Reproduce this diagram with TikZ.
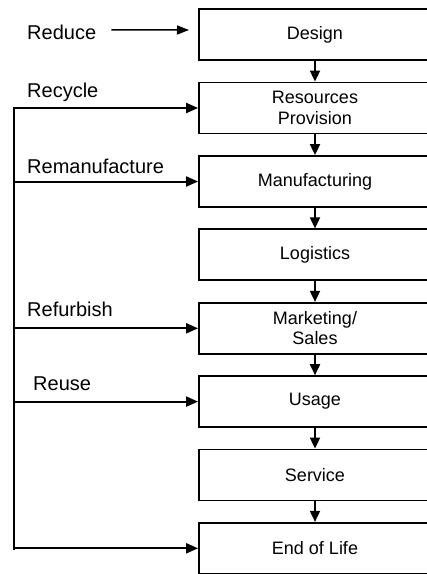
\documentclass[tikz,border=0pt]{standalone}
\usepackage{fontspec}
\setmainfont{Liberation Sans}
\usetikzlibrary{arrows.meta}
\begin{document}
\begin{tikzpicture}[x=1pt,y=-1pt,
  stage/.style={draw, line width=1.8pt, minimum width=232pt, minimum height=51pt,
    align=center, inner sep=0pt, font=\fontsize{18}{20.5}\selectfont},
  lbl/.style={anchor=base west, inner sep=0pt, font=\fontsize{20}{24}\selectfont},
  flow/.style={line width=1.8pt, -{Triangle[length=11pt,width=10pt]}},
  feed/.style={line width=2pt, -{Triangle[length=12pt,width=10pt]}},
  bus/.style={line width=2.5pt, line cap=rect},
  redarrow/.style={line width=1.5pt, -{Triangle[length=12pt,width=9pt]}}]
\useasboundingbox (0,0) rectangle (427,574);
\clip (0,0) rectangle (427,574);
\fill[white] (0,0) rectangle (427,574);

% stages
\node[stage] (design) at (315,34.5) {Design};
\node[stage] (res)    at (315,108) {Resources\\Provision};
\node[stage] (manuf)  at (315,181.5) {Manufacturing};
\node[stage] (log)    at (315,254.8) {Logistics};
\node[stage] (mkt)    at (315,328.3) {Marketing/\\Sales};
\node[stage] (usage)  at (315,401.6) {Usage};
\node[stage] (serv)   at (315,475) {Service};
\node[stage] (eol)    at (315,548.3) {End of Life};

% downward flow
\draw[flow] (design) -- (res);
\draw[flow] (res) -- (manuf);
\draw[flow] (manuf) -- (log);
\draw[flow] (log) -- (mkt);
\draw[flow] (mkt) -- (usage);
\draw[flow] (usage) -- (serv);
\draw[flow] (serv) -- (eol);

% labels
\node[lbl] (reduce) at (27,39) {Reduce};
\node[lbl] (recycle) at (27,97) {Recycle};
\node[lbl] (reman) at (27,173) {Remanufacture};
\node[lbl] (refurb) at (27,316.7) {Refurbish};
\node[lbl] (reuse) at (33,390.7) {Reuse};

% reduce arrow
\coordinate (rend) at (189,30);
\draw[redarrow] ([xshift=15pt,yshift=2pt]reduce.east) -- (rend);

% feedback bus
\coordinate (bt) at (14,108);
\coordinate (bb) at (14,548.3);
\draw[bus] (bt) -- (bb);
\draw[feed] (bt) -- (res.west);
\draw[feed] (bt |- manuf.west) -- (manuf.west);
\draw[feed] (bt |- mkt.west) -- (mkt.west);
\draw[feed] (bt |- usage.west) -- (usage.west);
\draw[feed] (bb) -- (eol.west);
\end{tikzpicture}
\end{document}
